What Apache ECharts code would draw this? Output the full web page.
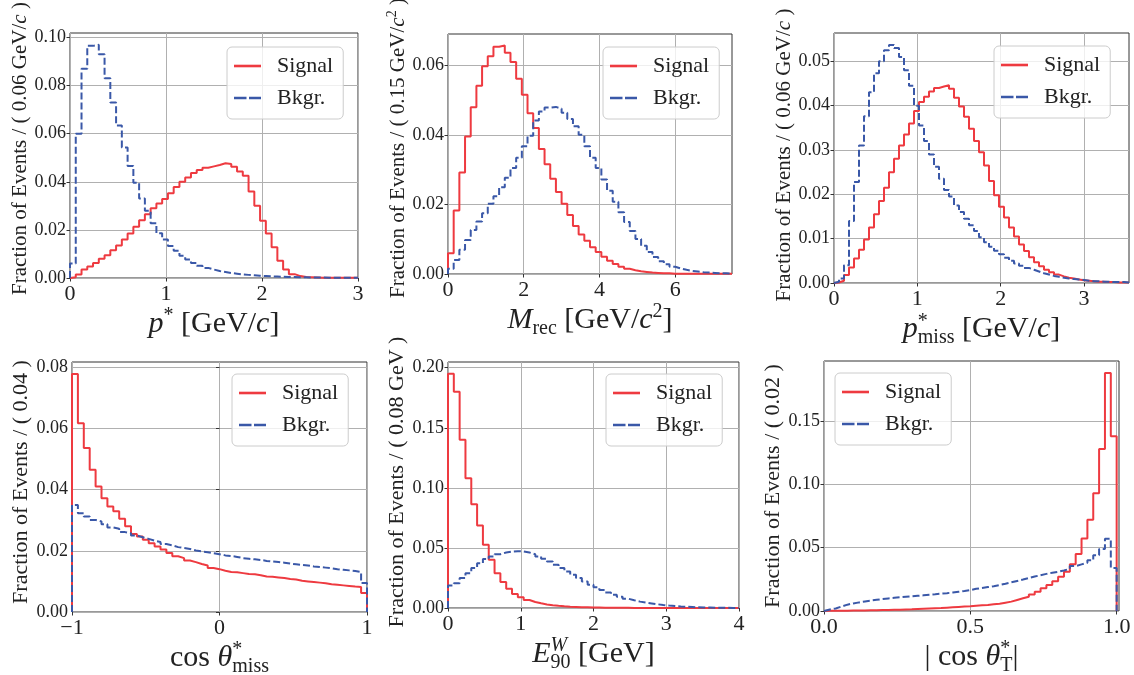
<!DOCTYPE html>
<html><head><meta charset="utf-8">
<script src="https://cdn.jsdelivr.net/npm/echarts@6/dist/echarts.min.js"></script>
<style>html,body{margin:0;padding:0;background:#fff}#c{width:1134px;height:675px}</style>
</head><body><div id="c"></div>
<script>
// ---------------- data ----------------
// panel 1: p*  (bins of 0.06 GeV/c from 0)
const pStarBinStart = 0, pStarBinWidth = 0.06;
const pStarSignal = [0.0003,0.0015,0.0035,0.0048,0.0062,0.008,0.0095,0.0115,0.0135,0.016,
  0.0185,0.0213,0.024,0.0265,0.029,0.031,0.0328,0.0352,0.0378,
  0.040,0.0418,0.0436,0.0449,0.0458,0.0464,0.047,0.0477,0.0474,0.0462,0.0443,0.0425,
  0.036,0.030,0.0238,0.0185,0.0128,0.0072,0.0035,0.0016,0.0008,0.0004,0.0003,0.0002,
  0.0001,0.0001,0.0001,0.0001,0.0001,0.0001,0.0001];
const pStarBkgr = [0.006,0.060,0.087,0.0965,0.097,0.093,0.083,0.073,0.0634,0.0543,
  0.0466,0.0396,0.033,0.028,0.0228,0.0186,0.016,0.0133,0.0113,0.0092,
  0.0077,0.0062,0.0051,0.0042,0.0035,0.0029,0.0025,0.0021,0.0018,0.0015,
  0.0013,0.0011,0.0009,0.0008,0.0007,0.0006,0.0005,0.0004,0.0004,0.0003,
  0.0003,0.0002,0.0002,0.0002,0.0001,0.0001,0.0001,0.0001,0.0001,0.0001];
const pStarXTicks = [0,1,2,3], pStarXLabels = ['0','1','2','3'];
const pStarYTicks = [0,0.02,0.04,0.06,0.08,0.10];

// panel 2: M_rec (bins of 0.15 GeV/c^2 from 0)
const mRecBinStart = 0, mRecBinWidth = 0.15;
const mRecSignal = [0.006,0.0183,0.0292,0.0396,0.048,0.0542,0.0598,0.0627,0.0654,0.0658,
  0.0637,0.061,0.0562,0.0516,0.0463,0.042,0.036,0.0316,0.0274,0.0236,
  0.0202,0.017,0.0138,0.0114,0.0096,0.0077,0.0063,0.005,0.0038,0.0029,
  0.0021,0.0015,0.0011,0.0008,0.0006,0.0004,0.0003,0.0002,0.0002,0.0001,
  0.0001,0.0001,0.0001,0.0001,0.0001,0.0001,0.0001,0.0001,0.0001,0.0001];
const mRecBkgr = [0.0015,0.004,0.007,0.0098,0.0127,0.0151,0.0175,0.0202,0.0224,0.025,
  0.0277,0.0305,0.0335,0.0368,0.0398,0.0442,0.0468,0.0479,0.0481,0.0476,
  0.0464,0.0446,0.0425,0.0401,0.0368,0.0335,0.0305,0.0272,0.024,0.0208,
  0.0178,0.015,0.0124,0.0101,0.0081,0.0063,0.0049,0.0037,0.0028,0.0021,
  0.0016,0.0012,0.0009,0.0007,0.0005,0.0004,0.0003,0.0002,0.0002,0.0001];
const mRecXTicks = [0,2,4,6], mRecXLabels = ['0','2','4','6'];
const mRecYTicks = [0,0.02,0.04,0.06];

// panel 3: p*_miss (bins of 0.06 GeV/c from 0)
const pMissBinStart = 0, pMissBinWidth = 0.06;
const pMissSignal = [0.0001,0.0005,0.0018,0.0035,0.0055,0.0075,0.0098,0.0125,0.0155,0.0185,
  0.0215,0.025,0.028,0.031,0.0335,0.036,0.0388,0.0408,0.042,0.0432,
  0.044,0.0443,0.0446,0.0438,0.0418,0.0398,0.0375,0.0348,0.032,0.0295,
  0.0265,0.023,0.0198,0.0172,0.0148,0.0125,0.0105,0.0087,0.0072,0.0058,
  0.0047,0.0038,0.003,0.0024,0.0019,0.0015,0.0012,0.001,0.0008,0.0006,
  0.0005,0.0004,0.0003,0.0003,0.0002,0.0002,0.0001,0.0001,0.0001];
const pMissBkgr = [0.0003,0.001,0.004,0.014,0.0228,0.031,0.0376,0.043,0.0473,0.050,
  0.0525,0.0537,0.053,0.051,0.048,0.0445,0.040,0.0355,0.032,0.029,
  0.0262,0.0235,0.021,0.0195,0.0175,0.016,0.0145,0.013,0.0117,0.0103,
  0.0092,0.0082,0.0073,0.0065,0.0057,0.005,0.0044,0.0039,0.0034,0.003,
  0.0026,0.0022,0.0019,0.0016,0.0014,0.0012,0.001,0.0009,0.0008,0.0007,
  0.0005,0.0004,0.0004,0.0003,0.0003,0.0002,0.0002,0.0002,0.0001];
const pMissXTicks = [0,1,2,3], pMissXLabels = ['0','1','2','3'];
const pMissYTicks = [0,0.01,0.02,0.03,0.04,0.05];

// panel 4: cos theta*_miss (bins of 0.04 from -1)
const cosMissBinStart = -1, cosMissBinWidth = 0.04;
const cosMissSignal = [0.0778,0.0617,0.0536,0.0465,0.041,0.0372,0.0345,0.0329,0.0305,0.028,
  0.0255,0.0247,0.0236,0.0225,0.0214,0.0204,0.0193,0.0182,0.0176,0.0168,
  0.0163,0.0157,0.0152,0.0144,0.014,0.0135,0.0131,0.013,0.0127,0.0124,
  0.0123,0.012,0.0116,0.0115,0.0113,0.0111,0.0108,0.0106,0.0102,0.01,
  0.0098,0.0096,0.0094,0.0091,0.0089,0.0087,0.0085,0.0083,0.0082,0.0062];
const cosMissBkgr = [0.035,0.0323,0.0312,0.0301,0.0296,0.0287,0.0276,0.0272,0.0261,0.0257,
  0.025,0.0244,0.0239,0.0233,0.0229,0.0222,0.0218,0.0212,0.0209,0.0206,
  0.0201,0.0198,0.0195,0.0192,0.0189,0.0185,0.0183,0.018,0.0176,0.0174,
  0.0172,0.017,0.0167,0.0165,0.0163,0.0161,0.0158,0.0156,0.0154,0.0152,
  0.0149,0.0147,0.0145,0.0143,0.014,0.0138,0.0136,0.0134,0.0131,0.0095];
const cosMissXTicks = [-1,0,1], cosMissXLabels = ['\u22121','0','1'];
const cosMissYTicks = [0,0.02,0.04,0.06,0.08];

// panel 5: E90^W (bins of 0.08 GeV from 0)
const e90BinStart = 0, e90BinWidth = 0.08;
const e90Signal = [0.195,0.18,0.14,0.108,0.0863,0.0686,0.0526,0.0401,0.029,0.0216,
  0.016,0.0116,0.0089,0.0066,0.005,0.0039,0.003,0.0023,0.0018,0.0014,
  0.0011,0.0009,0.0007,0.0006,0.0005,0.0004,0.0003,0.0003,0.0002,0.0002,
  0.0002,0.0001,0.0001,0.0001,0.0001,0.0001,0.0001,0.0001,0.0001,0.0001,
  0.0001,0.0001,0.0001,0.0001,0.0001,0.0001,0.0001,0.0001,0.0001,0.0001];
const e90Bkgr = [0.0188,0.0207,0.0249,0.029,0.0332,0.0373,0.0407,0.0429,0.0448,0.0462,
  0.047,0.0473,0.047,0.0462,0.0448,0.0429,0.041,0.0387,0.036,0.0332,
  0.0304,0.0277,0.0249,0.0221,0.0194,0.0172,0.0149,0.013,0.0111,0.0094,
  0.0077,0.0064,0.0053,0.0045,0.0038,0.0031,0.0025,0.002,0.0016,0.0012,
  0.001,0.0008,0.0006,0.0005,0.0004,0.0003,0.0002,0.0002,0.0001,0.0001];
const e90XTicks = [0,1,2,3,4], e90XLabels = ['0','1','2','3','4'];
const e90YTicks = [0,0.05,0.10,0.15,0.20];

// panel 6: |cos theta*_T| (bins of 0.02 from 0)
const cosTBinStart = 0, cosTBinWidth = 0.02;
const cosTSignal = [0.0001,0.0001,0.0002,0.0002,0.0003,0.0004,0.0004,0.0005,0.0006,0.0007,
  0.0008,0.0009,0.001,0.0012,0.0013,0.0015,0.0017,0.0019,0.0021,0.0023,
  0.0026,0.0029,0.0032,0.0035,0.0038,0.0042,0.0045,0.0047,0.0053,0.0058,
  0.0066,0.0074,0.0087,0.01,0.0113,0.013,0.0152,0.018,0.0205,0.0235,
  0.027,0.031,0.037,0.045,0.0573,0.072,0.093,0.128,0.188,0.138];
const cosTBkgr = [0.0012,0.002,0.0035,0.005,0.006,0.0068,0.0075,0.0082,0.0088,0.0094,
  0.0099,0.0104,0.0108,0.0112,0.0116,0.012,0.0124,0.0128,0.0132,0.0137,
  0.0141,0.0146,0.0152,0.0158,0.0165,0.0175,0.0182,0.0189,0.0196,0.0205,
  0.0215,0.0226,0.0237,0.0248,0.026,0.0272,0.0283,0.0293,0.0302,0.031,
  0.032,0.0333,0.0355,0.0368,0.038,0.040,0.044,0.049,0.057,0.034];
const cosTXTicks = [0,0.5,1.0], cosTXLabels = ['0.0','0.5','1.0'];
const cosTYTicks = [0,0.05,0.10,0.15];

const seriesNames = ['Signal', 'Bkgr.'];

// ---------------- styling / layout ----------------
const RED = '#ee3a40', BLUE = '#3a58a8';
const FONT = '"Liberation Serif", "DejaVu Serif", serif';
const TXT = '#222';
const DASH_ICON = 'path://M0,0h12.5v2.6h-12.5z M15,0h12v2.6h-12z';

const panels = [
  { sig: pStarSignal, bkg: pStarBkgr, start: pStarBinStart, width: pStarBinWidth,
    xMin: 0, xMax: 3, xInt: 1, xTicks: pStarXTicks, xLabels: pStarXLabels, yTicks: pStarYTicks, yInt: 0.02,
    grid: {left: 70, top: 33, width: 288, height: 245}, legend: {left: 227, top: 47},
    xName: '{it|p}{sup|*}{rm| [GeV/}{it|c}{rm|]}', xGap: 27,
    yName: '{rm|Fraction of Events / ( 0.06 GeV/}{it|c}{rm| )}', yFont: 21, yShift: 14 },
  { sig: mRecSignal, bkg: mRecBkgr, start: mRecBinStart, width: mRecBinWidth,
    xMin: 0, xMax: 7.5, xInt: 2, xTicks: mRecXTicks, xLabels: mRecXLabels, yTicks: mRecYTicks, yInt: 0.02,
    grid: {left: 448, top: 34, width: 284, height: 240}, legend: {left: 603, top: 47},
    xName: '{it|M}{sub|rec}{rm| [GeV/}{it|c}{sup|2}{rm|]}', xGap: 25,
    yName: '{rm|Fraction of Events / ( 0.15 GeV/}{it|c}{ysup|2}{rm| )}', yFont: 21, yShift: 12 },
  { sig: pMissSignal, bkg: pMissBkgr, start: pMissBinStart, width: pMissBinWidth,
    xMin: 0, xMax: 3.54, xInt: 1, xTicks: pMissXTicks, xLabels: pMissXLabels, yTicks: pMissYTicks, yInt: 0.01,
    grid: {left: 834, top: 33, width: 295, height: 250}, legend: {left: 994, top: 46},
    xName: '{it|p}{supz|*}{sub|miss}{rm| [GeV/}{it|c}{rm|]}', xGap: 28,
    yName: '{rm|Fraction of Events / ( 0.06 GeV/}{it|c}{rm| )}', yFont: 21, yShift: 6 },
  { sig: cosMissSignal, bkg: cosMissBkgr, start: cosMissBinStart, width: cosMissBinWidth,
    xMin: -1, xMax: 1, xInt: 1, xTicks: cosMissXTicks, xLabels: cosMissXLabels, yTicks: cosMissYTicks, yInt: 0.02,
    grid: {left: 72, top: 362, width: 295, height: 250}, legend: {left: 232, top: 374},
    xName: '{rm|cos }{it|θ}{supz|*}{sub|miss}', xGap: 22,
    yName: '{rm|Fraction of Events / ( 0.04 )}', yFont: 22, yShift: 10 },
  { sig: e90Signal, bkg: e90Bkgr, start: e90BinStart, width: e90BinWidth,
    xMin: 0, xMax: 4, xInt: 1, xTicks: e90XTicks, xLabels: e90XLabels, yTicks: e90YTicks, yInt: 0.05,
    grid: {left: 448, top: 362, width: 291, height: 246}, legend: {left: 606, top: 374},
    xName: '{it|E}{supzi|W}{sub|90}{rm| [GeV]}', xGap: 25,
    yName: '{rm|Fraction of Events / ( 0.08 GeV )}', yFont: 22, yShift: 6 },
  { sig: cosTSignal, bkg: cosTBkgr, start: cosTBinStart, width: cosTBinWidth,
    xMin: 0, xMax: 1.008, xInt: 0.5, xTicks: cosTXTicks, xLabels: cosTXLabels, yTicks: cosTYTicks, yInt: 0.05,
    grid: {left: 824, top: 361, width: 295, height: 250}, legend: {left: 835, top: 373},
    xName: '{rm|| cos }{it|θ}{supz|*}{sub|T}{rm||}', xGap: 26,
    yName: '{rm|Fraction of Events / ( 0.02 )}', yFont: 22, yShift: 0 }
];

function stepPoints(start, width, values) {
  const pts = [[start, 0]];
  values.forEach((v, i) => pts.push([start + i * width, v]));
  pts.push([start + values.length * width, 0]);
  return pts;
}

const XF = 30, XS = 20;
const xRich = {
  rm: {fontFamily: FONT, fontSize: XF, color: TXT, align: 'left'},
  it: {fontFamily: FONT, fontSize: XF, fontStyle: 'italic', color: TXT, align: 'left'},
  sup: {fontFamily: FONT, fontSize: XS, color: TXT, align: 'left', padding: [0, 0, 16, 0]},
  sub: {fontFamily: FONT, fontSize: XS, color: TXT, align: 'left', padding: [17, 0, 0, 0]},
  supz: {fontFamily: FONT, fontSize: XS, color: TXT, width: 0, align: 'left', padding: [0, 0, 16, 0]},
  supzi: {fontFamily: FONT, fontSize: XS, fontStyle: 'italic', color: TXT, width: 0, align: 'left', padding: [0, 0, 16, 0]}
};
function yRich(fs) {
  return {
    rm: {fontFamily: FONT, fontSize: fs, color: TXT},
    it: {fontFamily: FONT, fontSize: fs, fontStyle: 'italic', color: TXT},
    ysup: {fontFamily: FONT, fontSize: Math.round(fs * 0.67), color: TXT, padding: [0, 0, 11, 0]}
  };
}

const option = {
  backgroundColor: '#fff',
  animation: false,
  grid: panels.map(p => Object.assign({}, p.grid, {
    show: true, borderColor: '#333', borderWidth: 1, backgroundColor: 'transparent',
    containLabel: false, outerBoundsMode: 'none'
  })),
  xAxis: panels.map((p, i) => ({
    type: 'value', gridIndex: i, min: p.xMin, max: p.xMax, interval: p.xInt,
    axisLine: {show: false},
    axisTick: {show: true, length: 3.5, customValues: p.xTicks, lineStyle: {color: '#333', width: 1}},
    axisLabel: {customValues: p.xTicks, fontFamily: FONT, fontSize: 22, color: TXT, margin: 5,
      formatter: v => { const k = p.xTicks.findIndex(t => Math.abs(t - v) < 1e-9); return k >= 0 ? p.xLabels[k] : ''; }},
    splitLine: {show: true, lineStyle: {color: '#b0b0b0', width: 1}},
    name: p.xName, nameLocation: 'middle', nameGap: p.xGap,
    nameTextStyle: {fontFamily: FONT, fontSize: XF, color: TXT, rich: xRich}
  })),
  yAxis: panels.map((p, i) => ({
    type: 'value', gridIndex: i, min: 0,
    max: 1.05 * Math.max(Math.max(...p.sig), Math.max(...p.bkg)), interval: p.yInt,
    axisLine: {show: false},
    axisTick: {show: true, length: 3.5, customValues: p.yTicks, lineStyle: {color: '#333', width: 1}},
    axisLabel: {customValues: p.yTicks, fontFamily: FONT, fontSize: 18, color: TXT, margin: 4,
      formatter: v => v.toFixed(2)},
    splitLine: {show: true, lineStyle: {color: '#b0b0b0', width: 1}},
    name: p.yName, nameLocation: 'middle', nameGap: 36,
    nameTextStyle: {fontFamily: FONT, fontSize: p.yFont, color: TXT, rich: yRich(p.yFont),
      padding: [0, 0, 0, p.yShift]}
  })),
  legend: panels.map(p => ({
    left: p.legend.left, top: p.legend.top, orient: 'vertical',
    data: [{name: seriesNames[0], icon: 'rect'}, {name: seriesNames[1], icon: DASH_ICON}],
    itemWidth: 27, itemHeight: 2.6, itemGap: 10, padding: [8, 10, 10, 7],
    backgroundColor: 'rgba(255,255,255,0.8)', borderColor: '#cccccc', borderWidth: 1, borderRadius: 5,
    selectedMode: false, formatter: '  {name}',
    textStyle: {fontFamily: FONT, fontSize: 22, color: TXT}
  })),
  series: panels.flatMap((p, i) => [
    {type: 'line', name: seriesNames[0], xAxisIndex: i, yAxisIndex: i, step: 'end', symbol: 'none',
     data: stepPoints(p.start, p.width, p.sig), silent: true,
     lineStyle: {color: RED, width: 2}, itemStyle: {color: RED}},
    {type: 'line', name: seriesNames[1], xAxisIndex: i, yAxisIndex: i, step: 'end', symbol: 'none',
     data: stepPoints(p.start, p.width, p.bkg), silent: true,
     lineStyle: {color: BLUE, width: 2, type: [7, 3]}, itemStyle: {color: BLUE}}
  ])
};

const chart = echarts.init(document.getElementById('c'), null, {renderer: 'canvas'});
chart.setOption(option);
</script>
</body></html>
